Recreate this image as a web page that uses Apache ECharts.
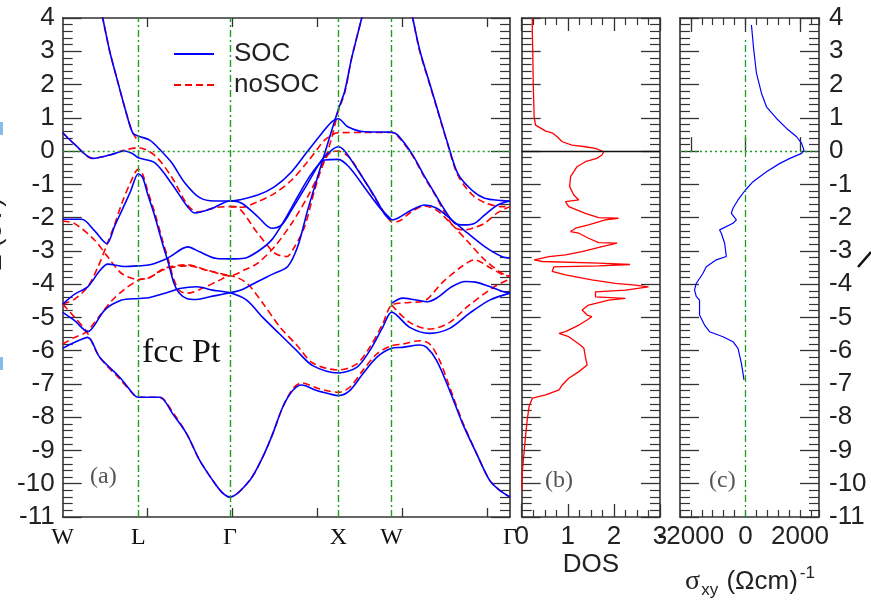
<!DOCTYPE html>
<html><head><meta charset="utf-8">
<script src="https://cdn.jsdelivr.net/npm/echarts@6/dist/echarts.min.js"></script>
<style>html,body{margin:0;padding:0;background:#fff}#c{width:871px;height:601px}</style>
</head><body><div id="c"></div>
<script>
// ---- k-path (arbitrary path units) ----
const kPointPositions = [0, 75.6, 167.3, 275.6, 329, 447.3];
const kPointLabels = ['W', 'L', 'Γ', 'X', 'W', 'Γ'];
const kPathTicks = [85, 170, 255, 340, 425];
const energyRange = [-11, 4];

// ---- SOC bands (blue) [k, E(eV)] ----
const socBand1 = [[37,4.4],[40,4],[47,3.0],[54,2.2],[64,1.1],[70,0.55],[75.6,0.45],[87,0.33],[97,0.05],[109,-0.35],[122,-0.95],[137,-1.4],[152,-1.5],[167.3,-1.5],[195,-1.32],[212,-1.07],[229,-0.62],[245,0.0],[259,0.53],[269,0.88],[275.6,0.97],[285,0.73],[302,0.58],[329,0.57],[335,0.48],[349,-0.07],[362,-0.77],[372,-1.27],[382,-1.77],[392,-2.17],[402,-2.22],[412,-2.17],[422,-1.92],[435,-1.62],[447.3,-1.5]];
const socBand2 = [[0,0.55],[12,0.2],[30,-0.22],[47,-0.12],[62,0.0],[70,-0.08],[75.6,-0.2],[92,-0.35],[109,-0.98],[125,-1.68],[132,-1.86],[149,-1.73],[167.3,-1.5],[179,-1.57],[195,-1.97],[209,-2.32],[219,-2.22],[229,-1.77],[245,-0.97],[259,-0.27],[269,0.03],[275.6,0.13],[282,0.0],[295,-0.57],[312,-1.37],[322,-1.9],[329,-2.07],[335,-2.02],[349,-1.77],[362,-1.62],[374,-1.72],[389,-2.07],[405,-2.47],[422,-2.87],[439,-3.17],[447.3,-3.22]];
const socBand3 = [[0,-2.05],[19,-2.05],[32,-2.4],[44,-2.78],[52,-2.25],[60,-1.73],[68,-1.2],[75.6,-0.68],[80,-0.8],[85,-1.3],[92,-1.95],[100,-2.8],[106,-3.4],[111,-3.95],[116,-4.25],[124,-4.43],[134,-4.46],[147,-4.38],[167.3,-4.26],[179,-4.17],[195,-3.92],[212,-3.67],[225,-3.47],[235,-2.87],[245,-1.77],[255,-0.77],[265,0.23],[275.6,1.25],[282,1.8],[289,2.8],[299,4.0],[302,4.4]];
const socBand4 = [[0,-4.6],[12,-4.3],[25,-4.08],[37,-3.6],[45,-3.4],[62,-3.47],[75.6,-3.45],[87,-3.42],[102,-3.26],[107,-3.18],[125,-2.88],[137,-3.03],[154,-3.23],[167.3,-3.24],[182,-3.22],[195,-3.02],[209,-2.67],[222,-2.07],[235,-1.37],[249,-0.67],[262,-0.27],[275.6,-0.25],[287,-0.5],[302,-1.1],[317,-1.7],[329,-2.07]];
const socBand5 = [[0,-4.85],[12,-5.1],[25,-5.43],[42,-4.78],[59,-4.48],[75.6,-4.43],[87,-4.4],[107,-4.23],[117,-4.13],[134,-4.08],[150,-4.18],[167.3,-4.26],[184,-4.48],[200,-5.0],[217,-5.5],[234,-6.0],[250,-6.45],[275.6,-6.67],[294,-6.5],[307,-6.0],[320,-5.3],[329,-4.84],[347,-5.3],[367,-5.48],[387,-5.33],[407,-4.87],[427,-4.48],[447.3,-4.27]];
const socBand6 = [[0,-5.93],[12,-5.75],[25,-5.6],[37,-6.2],[57,-6.8],[72,-7.35],[75.6,-7.4],[97,-7.4],[110,-7.9],[124,-8.5],[137,-9.3],[150,-9.9],[159,-10.25],[167.3,-10.4],[187,-9.9],[200,-9.2],[210,-8.5],[220,-7.7],[230,-7.2],[239,-7.03],[254,-7.2],[267,-7.3],[275.6,-7.35],[287,-7.2],[300,-6.7],[314,-6.2],[329,-5.93],[340,-5.9],[357,-5.83],[364,-5.9],[374,-6.3],[387,-7.2],[400,-8.2],[414,-9.1],[427,-9.9],[437,-10.2],[447.3,-10.4]];
const socBand7 = [[329,-4.57],[340,-4.42],[352,-4.47],[365,-4.53],[375,-4.4],[389,-4.08],[403,-3.92],[413,-3.94],[424,-4.04],[440,-4.22],[447.3,-4.27]];
const socBand8 = [[347,4.4],[350,4.0],[357,3.04],[367,2.03],[375,1.23],[385,0.23],[395,-0.67],[409,-1.17],[422,-1.42],[439,-1.49],[447.3,-1.5]];

// ---- noSOC bands (red dashed) [k, E(eV)] ----
const nosocBand1 = [[37,4.4],[40,4],[47,3.0],[54,2.2],[64,1.1],[70,0.55],[75.6,0.3]];
const nosocBand2 = [[0,0.55],[12,0.2],[30,-0.22],[47,-0.12],[62,0.03],[75.6,0.1],[92,-0.13],[109,-0.78],[125,-1.63],[135,-1.83],[152,-1.7],[167.3,-1.67],[179,-1.69],[195,-1.52],[212,-1.27],[229,-0.87],[245,-0.32],[262,0.33],[272,0.53],[275.6,0.55],[302,0.56],[329,0.56],[335,0.45],[349,-0.1],[362,-0.8],[372,-1.3],[382,-1.85],[392,-2.3],[402,-2.37],[412,-2.3],[422,-2.17],[435,-1.85],[447.3,-1.67]];
const nosocBand3 = [[167.3,-1.67],[172,-1.67],[195,-2.47],[212,-3.07],[224,-3.17],[232,-2.87],[242,-2.27],[252,-1.17],[262,-0.27],[269,-0.02],[275.6,0.0],[287,-0.2],[299,-0.75],[314,-1.5],[325,-2.0],[329,-2.13],[335,-2.12],[349,-1.82],[362,-1.65],[374,-1.78],[389,-2.2],[405,-2.72],[422,-3.27],[439,-3.67],[447.3,-3.77]];
const nosocBand4 = [[0,-2.1],[12,-2.18],[32,-2.68],[45,-3.18],[59,-3.68],[75.6,-3.86],[87,-3.8],[102,-3.55],[125,-3.45],[144,-3.58],[167.3,-3.75],[182,-3.57],[195,-3.37],[212,-2.87],[229,-2.17],[245,-1.37],[255,-0.77],[262,-0.27],[269,0.4],[275.6,1.2],[282,1.75],[289,2.8],[299,4.0],[302,4.4]];
const nosocBand5 = [[0,-4.6],[12,-4.45],[25,-4.08],[35,-3.5],[44,-2.83],[52,-2.2],[59,-1.58],[67,-1.0],[75.6,-0.55],[80,-0.7],[85,-1.2],[92,-1.85],[100,-2.7],[106,-3.3],[111,-3.85],[117,-4.2],[125,-4.27],[140,-4.12],[157,-3.88],[167.3,-3.75],[184,-3.97],[200,-4.57],[217,-5.28],[234,-5.83],[250,-6.37],[275.6,-6.58],[294,-6.4],[307,-5.9],[320,-5.2],[329,-4.63],[347,-4.55],[362,-4.5],[379,-3.97],[399,-3.47],[412,-3.27],[427,-3.5],[439,-3.7],[447.3,-3.77]];
const nosocBand6 = [[0,-4.6],[12,-5.0],[24,-5.43],[37,-6.2],[57,-6.85],[72,-7.35],[75.6,-7.4],[97,-7.4],[110,-7.85],[124,-8.5],[137,-9.3],[150,-9.9],[159,-10.25],[167.3,-10.4],[187,-9.9],[200,-9.2],[210,-8.5],[220,-7.7],[230,-7.15],[239,-6.97],[254,-7.12],[267,-7.22],[275.6,-7.25],[287,-7.1],[300,-6.6],[314,-6.1],[329,-5.85],[340,-5.8],[357,-5.7],[367,-5.8],[377,-6.3],[387,-7.1],[400,-8.15],[414,-9.1],[427,-9.9],[437,-10.2],[447.3,-10.4]];
const nosocBand7 = [[0,-5.8],[12,-5.6],[24,-5.43],[37,-4.95],[49,-4.5],[62,-4.15],[75.6,-3.88],[87,-3.8],[102,-3.52],[125,-3.42],[144,-3.58],[167.3,-3.75]];
const nosocBand8 = [[329,-4.63],[347,-5.15],[367,-5.35],[387,-5.15],[405,-4.67],[432,-4.07],[447.3,-3.85]];
const nosocBand9 = [[347,4.4],[350,4],[357,3.0],[367,2.0],[375,1.2],[385,0.2],[395,-0.72],[409,-1.3],[422,-1.55],[439,-1.67],[447.3,-1.67]];

// ---- DOS panel (b): [DOS, E] ----
const dosCurve = [[0.23,3.99],[0.23,3.6],[0.24,3.0],[0.25,2.03],[0.27,1.03],[0.30,0.78],[0.52,0.6],[0.66,0.55],[0.77,0.43],[0.88,0.28],[1.09,0.18],[1.38,0.13],[1.6,0.08],[1.78,-0.02],[1.74,-0.12],[1.63,-0.22],[1.38,-0.32],[1.2,-0.47],[1.06,-0.77],[1.04,-1.07],[1.13,-1.32],[1.24,-1.47],[0.95,-1.52],[1.02,-1.67],[1.38,-1.87],[1.67,-2.0],[2.1,-2.02],[1.81,-2.07],[1.45,-2.22],[1.17,-2.32],[1.06,-2.42],[1.24,-2.47],[1.45,-2.62],[1.67,-2.75],[2.07,-2.77],[1.74,-2.87],[1.31,-3.02],[0.95,-3.12],[0.59,-3.17],[0.27,-3.27],[0.45,-3.32],[1.67,-3.37],[2.35,-3.41],[1.67,-3.45],[0.7,-3.48],[0.66,-3.62],[0.95,-3.72],[1.52,-3.87],[2.03,-3.98],[2.46,-4.03],[2.75,-4.08],[2.25,-4.18],[1.6,-4.23],[1.6,-4.38],[2.25,-4.43],[1.89,-4.48],[1.45,-4.63],[1.31,-4.78],[1.42,-4.93],[1.52,-4.98],[1.42,-5.08],[1.24,-5.23],[0.95,-5.43],[0.81,-5.48],[1.02,-5.58],[1.27,-5.83],[1.35,-5.93],[1.38,-6.18],[1.42,-6.43],[1.24,-6.63],[1.02,-6.83],[0.88,-7.03],[0.81,-7.18],[0.52,-7.33],[0.23,-7.43],[0.16,-7.68],[0.12,-8.08],[0.09,-8.48],[0.05,-9.08],[0.01,-9.68],[0,-10.18]];
const dosTicks = [0, 1, 2, 3];

// ---- sigma_xy panel (c): [sigma (Ohm cm)^-1, E] ----
const sigmaCurve = [[221,3.79],[306,3.04],[405,2.34],[589,1.74],[773,1.33],[1142,0.98],[1510,0.68],[1878,0.43],[2062,0.23],[2147,0.03],[2062,-0.07],[1632,-0.22],[1263,-0.37],[773,-0.62],[280,-0.92],[0,-1.17],[-272,-1.47],[-457,-1.72],[-516,-1.87],[-331,-2.07],[-457,-2.17],[-947,-2.37],[-884,-2.47],[-762,-2.77],[-700,-3.17],[-1068,-3.27],[-1436,-3.48],[-1561,-3.68],[-1805,-3.98],[-1867,-4.17],[-1805,-4.37],[-1683,-4.48],[-1683,-4.93],[-1499,-5.23],[-1315,-5.43],[-825,-5.58],[-457,-5.73],[-272,-5.93],[-147,-6.38],[-88,-6.68],[-52,-6.88]];
const sigmaLabelTicks = [-2000, 0, 2000];
const sigmaRange = [-2400, 2700];

// ---------------- styling / layout ----------------
const FRAME = '#333';
const GREEN = '#1f9e1f';
const BLUE = '#0000ff';
const RED = '#ff0000';
const SANS = 'Liberation Sans';
const SERIF = 'Liberation Serif';
const gridTop = 18, gridH = 499;

const chart = echarts.init(document.getElementById('c'), null, {renderer: 'canvas'});

function yAx(grid, pos, labels) {
  return {
    type: 'value', gridIndex: grid, position: pos, min: energyRange[0], max: energyRange[1], interval: 1,
    axisLine: {show: true, onZero: false, lineStyle: {color: FRAME, width: 1.6}},
    axisTick: {show: true, inside: true, length: 19, lineStyle: {color: FRAME, width: 1.3}},
    minorTick: {show: true, splitNumber: 5, length: 10, lineStyle: {color: FRAME, width: 1.2}},
    axisLabel: {show: labels, margin: pos === 'left' ? 8 : 10, fontSize: 26, fontFamily: SANS, color: '#222'},
    splitLine: {show: false}, minorSplitLine: {show: false}
  };
}

const xAxes = [];
// panel a bottom/top
[ 'bottom', 'top' ].forEach(function (pos) {
  xAxes.push({
    type: 'value', gridIndex: 0, position: pos, min: kPointPositions[0], max: kPointPositions[5],
    axisLine: {show: true, onZero: false, lineStyle: {color: FRAME, width: 1.6}},
    axisTick: {show: true, inside: true, length: 9, customValues: kPathTicks, lineStyle: {color: FRAME, width: 1.3}},
    axisLabel: pos === 'bottom' ? {
      show: true, customValues: kPointPositions, margin: 9, fontSize: 24, fontFamily: SERIF, color: '#111',
      formatter: function (v) {
        let best = 0;
        for (let i = 0; i < kPointPositions.length; i++) if (Math.abs(kPointPositions[i] - v) < Math.abs(kPointPositions[best] - v)) best = i;
        return kPointLabels[best];
      }
    } : {show: false},
    splitLine: {show: false}
  });
});
// panel b
[ 'bottom', 'top' ].forEach(function (pos) {
  xAxes.push({
    type: 'value', gridIndex: 1, position: pos, min: dosTicks[0], max: dosTicks[dosTicks.length - 1], interval: 1,
    axisLine: {show: true, onZero: false, lineStyle: {color: FRAME, width: 1.6}},
    axisTick: {show: true, inside: true, length: 13, lineStyle: {color: FRAME, width: 1.3}},
    minorTick: {show: true, splitNumber: 4, length: 7, lineStyle: {color: FRAME, width: 1.2}},
    axisLabel: {show: pos === 'bottom', margin: 7, fontSize: 26, fontFamily: SANS, color: '#222'},
    splitLine: {show: false}, minorSplitLine: {show: false}
  });
});
// panel c (minor ticks every 400 + labels)
[ 'bottom', 'top' ].forEach(function (pos) {
  xAxes.push({
    type: 'value', gridIndex: 2, position: pos, min: sigmaRange[0], max: sigmaRange[1], interval: 400,
    axisLine: {show: true, onZero: false, lineStyle: {color: FRAME, width: 1.6}},
    axisTick: {show: true, inside: true, length: 7, lineStyle: {color: FRAME, width: 1.2}},
    axisLabel: pos === 'bottom' ? {show: true, customValues: sigmaLabelTicks, margin: 7, fontSize: 26, fontFamily: SANS, color: '#222',
      formatter: function (v) { return String(Math.round(v)); }} : {show: false},
    splitLine: {show: false}
  });
});
// panel c overlay: major ticks
[ 'bottom', 'top' ].forEach(function (pos) {
  xAxes.push({
    type: 'value', gridIndex: 3, position: pos, min: sigmaRange[0], max: sigmaRange[1],
    axisLine: {show: false},
    axisTick: {show: true, inside: true, length: 14, customValues: sigmaLabelTicks, lineStyle: {color: FRAME, width: 1.3}},
    axisLabel: {show: false}, splitLine: {show: false}
  });
});

const yAxes = [
  yAx(0, 'left', true), yAx(0, 'right', false),
  yAx(1, 'left', false), yAx(1, 'right', false),
  yAx(2, 'left', false), yAx(2, 'right', true),
  {type: 'value', gridIndex: 3, min: energyRange[0], max: energyRange[1], show: false}
];

const series = [];
// green reference lines for panel a (host series, below bands)
series.push({
  type: 'line', xAxisIndex: 0, yAxisIndex: 0, data: [[-100, -100]], symbol: 'none', silent: true, z: 1,
  lineStyle: {opacity: 0},
  markLine: {
    silent: true, symbol: ['none', 'none'], label: {show: false}, animation: false,
    data: [
      {xAxis: kPointPositions[1], lineStyle: {color: GREEN, width: 1.4, type: [7, 3, 2, 3]}},
      {xAxis: kPointPositions[2], lineStyle: {color: GREEN, width: 1.4, type: [7, 3, 2, 3]}},
      {xAxis: kPointPositions[3], lineStyle: {color: GREEN, width: 1.4, type: [7, 3, 2, 3]}},
      {xAxis: kPointPositions[4], lineStyle: {color: GREEN, width: 1.4, type: [7, 3, 2, 3]}},
      {yAxis: 0, lineStyle: {color: GREEN, width: 1.4, type: [2, 3]}}
    ]
  }
});

const socBands = [socBand1, socBand2, socBand3, socBand4, socBand5, socBand6, socBand7, socBand8];
const nosocBands = [nosocBand1, nosocBand2, nosocBand3, nosocBand4, nosocBand5, nosocBand6, nosocBand7, nosocBand8, nosocBand9];

nosocBands.forEach(function (d) {
  series.push({
    type: 'line', name: 'noSOC', xAxisIndex: 0, yAxisIndex: 0, data: d,
    symbol: 'none', showSymbol: false, smooth: 0.3, clip: true, z: 3,
    itemStyle: {color: RED}, lineStyle: {color: RED, width: 1.6, type: [7, 4]}
  });
});
socBands.forEach(function (d) {
  series.push({
    type: 'line', name: 'SOC', xAxisIndex: 0, yAxisIndex: 0, data: d,
    symbol: 'none', showSymbol: false, smooth: 0.3, clip: true, z: 4,
    itemStyle: {color: BLUE}, lineStyle: {color: BLUE, width: 1.6}
  });
});

// DOS
series.push({
  type: 'line', name: 'DOS', xAxisIndex: 2, yAxisIndex: 2, data: dosCurve,
  symbol: 'none', showSymbol: false, clip: true, z: 3,
  itemStyle: {color: RED}, lineStyle: {color: RED, width: 1.3},
  markLine: {
    silent: true, symbol: ['none', 'none'], label: {show: false}, animation: false,
    data: [{yAxis: 0, lineStyle: {color: '#111', width: 1.3, type: 'solid'}}]
  }
});

// sigma_xy
series.push({
  type: 'line', name: 'sigma', xAxisIndex: 4, yAxisIndex: 4, data: sigmaCurve,
  symbol: 'none', showSymbol: false, clip: true, z: 3,
  itemStyle: {color: BLUE}, lineStyle: {color: BLUE, width: 1.2},
  markLine: {
    silent: true, symbol: ['none', 'none'], label: {show: false}, animation: false,
    data: [
      {yAxis: 0, lineStyle: {color: GREEN, width: 1.4, type: [2, 3]}},
      [{coord: [0, energyRange[0]], lineStyle: {color: GREEN, width: 1.3, type: [7, 3, 2, 3]}}, {coord: [0, 3.4]}]
    ]
  }
});

const option = {
  animation: false,
  backgroundColor: '#ffffff',
  grid: [
    {left: 62.7, top: gridTop, width: 447.3, height: gridH},
    {left: 521.7, top: gridTop, width: 138.3, height: gridH},
    {left: 680, top: gridTop, width: 139, height: gridH},
    {left: 680, top: gridTop, width: 139, height: gridH}
  ],
  xAxis: xAxes,
  yAxis: yAxes,
  legend: {
    data: ['SOC', 'noSOC'], orient: 'vertical', left: 168, top: 33,
    padding: [8, 10, 8, 5], itemGap: 5, itemWidth: 40, itemHeight: 14,
    backgroundColor: '#ffffff', selectedMode: false,
    itemStyle: {opacity: 0},
    textStyle: {fontSize: 26, fontFamily: SANS, color: '#222', lineHeight: 26, padding: [0, 0, 0, 15]}
  },
  graphic: [
    {type: 'text', left: 142, top: 336, z: 10, style: {text: 'fcc Pt', font: '34px "Liberation Serif"', fill: '#111'}},
    {type: 'text', left: 90, top: 465, z: 10, style: {text: '(a)', font: '24px "Liberation Serif"', fill: '#555'}},
    {type: 'text', left: 545, top: 469, z: 10, style: {text: '(b)', font: '24px "Liberation Serif"', fill: '#555'}},
    {type: 'text', left: 709, top: 469, z: 10, style: {text: '(c)', font: '24px "Liberation Serif"', fill: '#555'}},
    {type: 'text', x: 591, y: 565, z: 10, style: {text: 'DOS', font: '26px "Liberation Sans"', fill: '#222', align: 'center', verticalAlign: 'middle', textAlign: 'center', textVerticalAlign: 'middle'}},
    {type: 'text', x: 750, y: 582, z: 10, style: {
      text: '{s|σ}{b|xy}{n| (Ωcm)}{p|-1}', align: 'center', verticalAlign: 'middle', textAlign: 'center', textVerticalAlign: 'middle',
      rich: {
        s: {fontSize: 28, fontFamily: SERIF, fill: '#222', color: '#222'},
        b: {fontSize: 17, fontFamily: SANS, fill: '#222', color: '#222', padding: [16, 1, 0, 1]},
        n: {fontSize: 26, fontFamily: SANS, fill: '#222', color: '#222'},
        p: {fontSize: 17, fontFamily: SANS, fill: '#222', color: '#222', padding: [0, 0, 18, 2]}
      }
    }},
    {type: 'text', x: -6, y: 235, rotation: Math.PI / 2, z: 10, style: {text: 'E (eV)', font: '26px "Liberation Sans"', fill: '#222', align: 'center', verticalAlign: 'middle', textAlign: 'center', textVerticalAlign: 'middle'}},
    {type: 'rect', shape: {x: 0, y: 122, width: 3, height: 13}, style: {fill: '#86bde8'}},
    {type: 'rect', shape: {x: 0, y: 357, width: 3, height: 13}, style: {fill: '#86bde8'}},
    {type: 'polyline', shape: {points: [[858, 267], [871, 252]]}, style: {stroke: '#111', lineWidth: 2.5, fill: null}}
  ],
  series: series
};
chart.setOption(option);
</script></body></html>
